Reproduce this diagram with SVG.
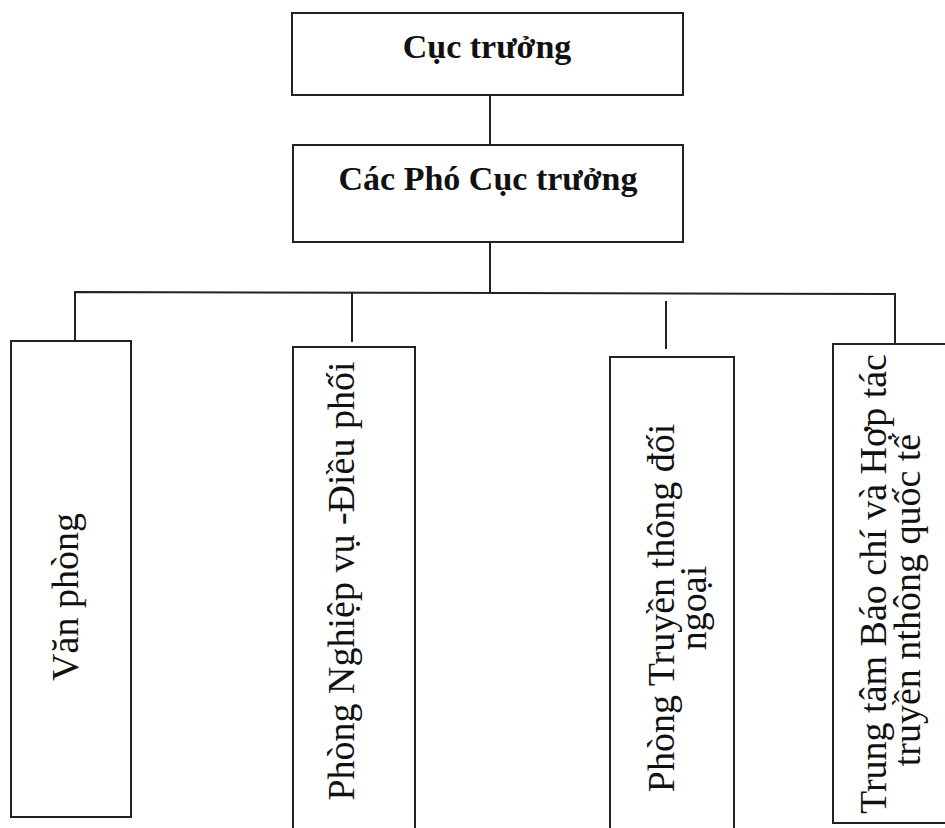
<svg xmlns="http://www.w3.org/2000/svg" width="945" height="828" viewBox="0 0 945 828">
<style>
.box{fill:#fff;stroke:#222;stroke-width:2}
.ln{stroke:#222;stroke-width:2;fill:none}
.tb{font-family:"Liberation Serif","Times New Roman",serif;font-weight:bold;font-size:34px;fill:#111;text-anchor:middle}
.tv{font-family:"Liberation Serif","Times New Roman",serif;font-size:38px;fill:#111;text-anchor:middle}
</style>
<rect width="945" height="828" fill="#fff"/>
<g id="connectors">
<line class="ln" x1="490" y1="95" x2="490" y2="145"/>
<line class="ln" x1="490" y1="242" x2="490" y2="293"/>
<polyline class="ln" points="75,341 75,292 895,294 895,344"/>
<line class="ln" x1="352" y1="292" x2="352" y2="342"/>
<line class="ln" x1="666" y1="301" x2="666" y2="349"/>
</g>
<g id="cuc-truong">
<rect class="box" x="292" y="13" width="391" height="82"/>
<text class="tb" x="487" y="58">Cục trưởng</text>
</g>
<g id="pho-cuc-truong">
<rect class="box" x="293" y="145" width="390" height="97"/>
<text class="tb" x="488" y="190">Các Phó Cục trưởng</text>
</g>
<g id="van-phong">
<rect class="box" x="11" y="341" width="120" height="476"/>
<text class="tv" transform="translate(78,597) rotate(-90)">Văn phòng</text>
</g>
<g id="nghiep-vu">
<rect class="box" x="293" y="347" width="122" height="485"/>
<text class="tv" transform="translate(354,581) rotate(-90)">Phòng Nghiệp vụ -Điều phối</text>
</g>
<g id="truyen-thong">
<rect class="box" x="610" y="357" width="124" height="480"/>
<text class="tv" transform="translate(674,608) rotate(-90)">Phòng Truyền thông đối</text>
<text class="tv" transform="translate(706,608) rotate(-90)">ngoại</text>
</g>
<g id="trung-tam">
<rect class="box" x="833" y="344" width="130" height="479"/>
<text class="tv" transform="translate(886,584) rotate(-90)">Trung tâm Báo chí và Hợp tác</text>
<text class="tv" transform="translate(920,600) rotate(-90)">truyền nthông quốc tế</text>
</g>
</svg>
